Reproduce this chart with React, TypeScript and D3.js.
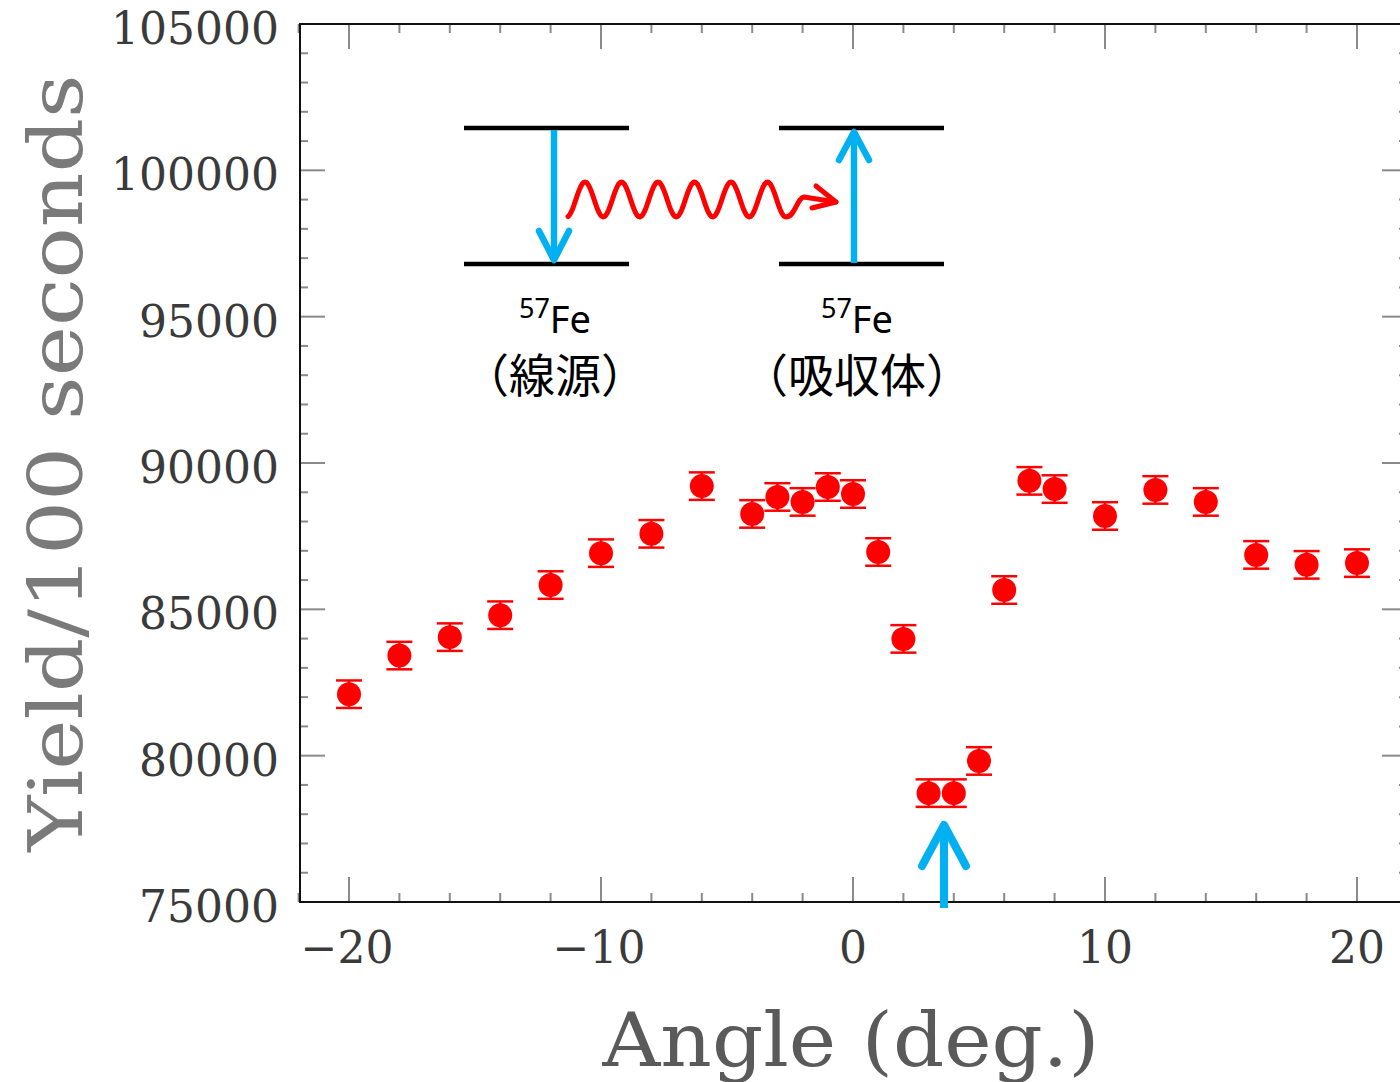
import React from 'react';
import * as d3 from 'd3';

// measured angle (deg) and yield per 100 s
const angles = [-20, -18, -16, -14, -12, -10, -8, -6, -4, -3, -2, -1, 0, 1, 2, 3, 4, 5, 6, 7, 8, 10, 12, 14, 16, 18, 20];
const yields = [82100, 83420, 84050, 84800, 85830, 86920, 87580, 89210, 88260, 88840, 88670, 89180, 88940, 86960, 83990, 78720, 78720, 79820, 85660, 89390, 89110, 88190, 89080, 88670, 86860, 86520, 86580];
const errors = [470, 470, 470, 470, 470, 470, 470, 470, 470, 470, 470, 470, 470, 470, 470, 470, 470, 470, 470, 470, 470, 470, 470, 470, 470, 470, 470];

const xMajor = [-20, -10, 0, 10, 20];
const xMinor = [-22, -18, -16, -14, -12, -8, -6, -4, -2, 2, 4, 6, 8, 12, 14, 16, 18, 22];
const yMajor = [75000, 80000, 85000, 90000, 95000, 100000, 105000];
const yMinor = [76000, 77000, 78000, 79000, 81000, 82000, 83000, 84000, 86000, 87000, 88000, 89000, 91000, 92000, 93000, 94000, 96000, 97000, 98000, 99000, 101000, 102000, 103000, 104000];

const W = 1400;
const H = 1082;
const left = 300;
const right = 1407;
const top = 24;
const bottom = 902;

export default function App() {
  const x = d3.scaleLinear().domain([-22, 22]).range([298.6, 1407.4]);
  const y = d3.scaleLinear().domain([75000, 105000]).range([bottom, top]);

  const fmtX = (v: number) => (v < 0 ? '\u2212' + Math.abs(v) : String(v));
  const tickCol = '#8a8a8a';
  const serif = 'DejaVu Serif, serif';

  // wavy photon line
  const period = 36.5;
  const x0 = 585 - period / 4;
  const wave = d3.range(568, 787, 1).map(px => [px, 199.5 - 17.5 * Math.sin((2 * Math.PI * (px - x0)) / period)] as [number, number]);
  const wavePath = d3.line().curve(d3.curveBasis)(wave) + ' C 795 217 797 198 804 197 L 836 202';

  return (
    <svg width={W} height={H} style={{ position: 'absolute', left: 0, top: 0, background: '#fff' }}>
      <rect x={0} y={0} width={W} height={H} fill="#fff" />

      {/* ticks */}
      <g stroke={tickCol} strokeWidth={2}>
        {xMajor.map(v => (
          <g key={'xm' + v}>
            <line x1={x(v)} x2={x(v)} y1={bottom} y2={bottom - 25} />
            <line x1={x(v)} x2={x(v)} y1={top} y2={top + 25} />
          </g>
        ))}
        {xMinor.map(v => (
          <g key={'xn' + v}>
            <line x1={x(v)} x2={x(v)} y1={bottom} y2={bottom - 9} />
            <line x1={x(v)} x2={x(v)} y1={top} y2={top + 9} />
          </g>
        ))}
        {yMajor.map(v => (
          <g key={'ym' + v}>
            <line x1={left} x2={left + 25} y1={y(v)} y2={y(v)} />
            <line x1={right} x2={right - 25} y1={y(v)} y2={y(v)} />
          </g>
        ))}
        {yMinor.map(v => (
          <g key={'yn' + v}>
            <line x1={left} x2={left + 8} y1={y(v)} y2={y(v)} />
            <line x1={right} x2={right - 8} y1={y(v)} y2={y(v)} />
          </g>
        ))}
      </g>

      {/* frame */}
      <rect x={left} y={top} width={right - left} height={bottom - top} fill="none" stroke="#111" strokeWidth={2} />

      {/* tick labels */}
      <g fontFamily={serif} fontSize={44} fill="#3a3a3a">
        {yMajor.map(v => (
          <text key={'yl' + v} x={279} y={y(v) + 20} textAnchor="end">{v}</text>
        ))}
        {xMajor.map(v => (
          <text key={'xl' + v} x={x(v) + (v < 0 ? -2 : 0)} y={963} textAnchor="middle">{fmtX(v)}</text>
        ))}
      </g>

      {/* axis titles */}
      <text x={851} y={1066} textAnchor="middle" fontFamily={serif} fontSize={74} fill="#5a5a5a"
        textLength={497} lengthAdjust="spacingAndGlyphs">Angle (deg.)</text>
      <text transform="translate(82,463) rotate(-90)" textAnchor="middle" fontFamily={serif} fontSize={74} fill="#7a7a7a"
        textLength={777} lengthAdjust="spacingAndGlyphs">Yield/100 seconds</text>

      {/* data */}
      <g stroke="#ff0000" strokeWidth={2.5} fill="#ff0000">
        {angles.map((a, i) => (
          <g key={'p' + a}>
            <line x1={x(a)} x2={x(a)} y1={y(yields[i] - errors[i])} y2={y(yields[i] + errors[i])} />
            <line x1={x(a) - 13} x2={x(a) + 13} y1={y(yields[i] - errors[i])} y2={y(yields[i] - errors[i])} />
            <line x1={x(a) - 13} x2={x(a) + 13} y1={y(yields[i] + errors[i])} y2={y(yields[i] + errors[i])} />
            <circle cx={x(a)} cy={y(yields[i])} r={12} stroke="none" />
          </g>
        ))}
      </g>

      {/* level diagram */}
      <g stroke="#000" strokeWidth={4.5}>
        <line x1={464} x2={629} y1={128} y2={128} />
        <line x1={464} x2={629} y1={264} y2={264} />
        <line x1={779} x2={944} y1={128} y2={128} />
        <line x1={779} x2={944} y1={264} y2={264} />
      </g>
      <g stroke="#00b0f0" strokeWidth={6.5} fill="none" strokeLinecap="round" strokeLinejoin="round">
        <line x1={554} x2={554} y1={130} y2={258} strokeLinecap="butt" />
        <polyline points="539,231 554,260 569,231" />
        <line x1={854} x2={854} y1={263} y2={135} strokeLinecap="butt" />
        <polyline points="839,160 854,132 869,160" />
      </g>
      <g stroke="#ff0000" strokeWidth={5} fill="none" strokeLinecap="round" strokeLinejoin="round">
        <path d={wavePath} />
        <polyline points="816,186 836,202 812,208" />
      </g>
      <g fontFamily="Noto Sans, sans-serif" fill="#000">
        <text x={555} y={333} textAnchor="middle">
          <tspan fontSize={27} dy={-15}>57</tspan>
          <tspan fontSize={38} dy={15}>Fe</tspan>
        </text>
        <text x={857} y={333} textAnchor="middle">
          <tspan fontSize={27} dy={-15}>57</tspan>
          <tspan fontSize={38} dy={15}>Fe</tspan>
        </text>
      </g>
      <g fontFamily="Noto Sans CJK JP, sans-serif" fontSize={46} fill="#000" style={{ fontFeatureSettings: '"halt"' }}>
        <text x={555} y={392} textAnchor="middle">（線源）</text>
        <text x={857} y={392} textAnchor="middle">（吸収体）</text>
      </g>

      {/* resonance arrow */}
      <g stroke="#00b0f0" strokeWidth={8} fill="none" strokeLinecap="round" strokeLinejoin="round">
        <line x1={944} x2={944} y1={908} y2={826} strokeLinecap="butt" />
        <polyline points="922,866 944,825 966,866" />
      </g>
    </svg>
  );
}
